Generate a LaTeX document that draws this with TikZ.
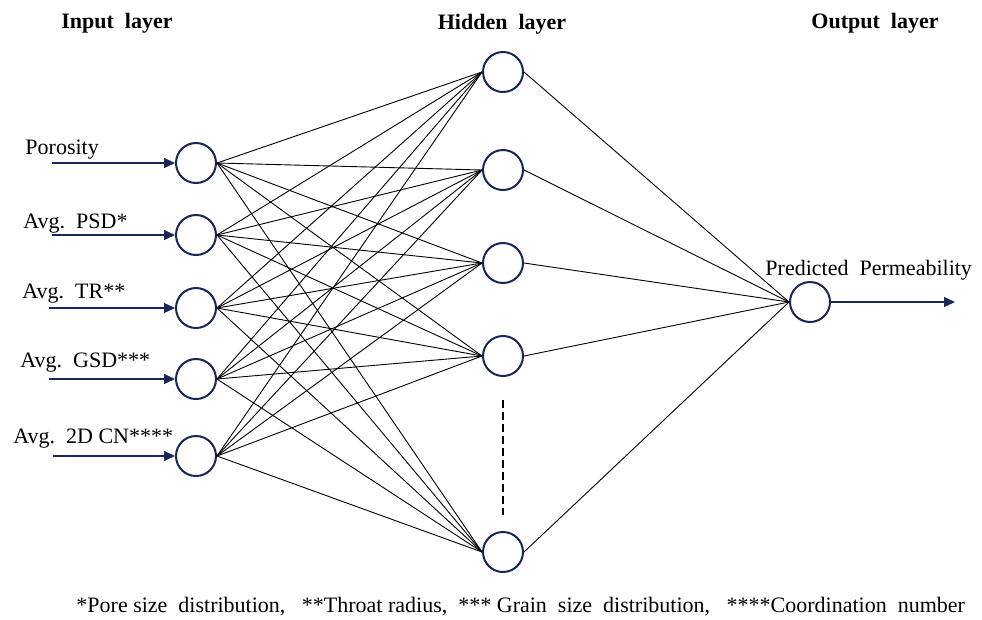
\documentclass[tikz,border=0pt]{standalone}
\usepackage{fontspec}
\setmainfont{Liberation Serif}
\usetikzlibrary{positioning,arrows.meta}
\definecolor{navy}{RGB}{25,38,90}

\begin{document}
\begin{tikzpicture}[x=1pt, y=-1pt, line width=0.9pt,
		neuron/.style={circle, draw=navy, line width=2pt, minimum size=40pt, inner sep=0pt},
		feed/.style={-{Triangle[length=11pt,width=10pt]}, draw=navy, fill=navy, line width=1.2pt},
		lbl/.style={font=\fontsize{22}{26}\selectfont, inner sep=0pt, anchor=base west},
		head/.style={font=\bfseries\fontsize{22}{26}\selectfont, inner sep=0pt, anchor=base}]
		\useasboundingbox (0,0) rectangle (982,619);
		% layer titles
		\node[head] (tin) at (117,28) {Input\ \ layer};
		\node[head] (thid) at (502,29) {Hidden\ \ layer};
		\node[head] (tout) at (875,28) {Output\ \ layer};
		% input neurons
		\node[neuron] (i1) at (196,163) {};
		\node[neuron] (i2) at (196,235) {};
		\node[neuron] (i3) at (196,308) {};
		\node[neuron] (i4) at (196,379) {};
		\node[neuron] (i5) at (196,456) {};
		% hidden neurons
		\node[neuron] (h1) at (503,72) {};
		\node[neuron] (h2) at (503,170) {};
		\node[neuron] (h3) at (503,263) {};
		\node[neuron] (h4) at (503,356) {};
		\node[neuron] (h5) at (503,552) {};
		% output neuron
		\node[neuron] (o) at (810,302) {};
		% input labels
		\node[lbl] (l1) at (25,154) {Porosity};
		\node[lbl] (l2) at (23,228) {Avg.\ \ PSD*};
		\node[lbl] (l3) at (22,298) {Avg.\ \ TR**};
		\node[lbl] (l4) at (20,367) {Avg.\ \ GSD***};
		\node[lbl] (l5) at (13,443) {Avg.\ \ 2D\ CN****};
		\node[lbl] (lo) at (765,275) {Predicted\ \ Permeability};
		% input arrows
		\coordinate (s1) at (52,163);
		\coordinate (s2) at (52,235);
		\coordinate (s3) at (49,308);
		\coordinate (s4) at (49,379);
		\coordinate (s5) at (53,456);
		\coordinate (e) at (955,302);
		\foreach \k in {1,...,5}
			\draw[feed] (s\k) -- (i\k.west);
		\draw[feed] (o.east) -- (e);
		% weights
		\foreach \a in {1,...,5}
			\foreach \b in {1,...,5}
				\draw (i\a.east) -- (h\b.west);
		\foreach \b in {1,...,5}
			\draw (h\b.east) -- (o.west);
		% more hidden neurons
		\coordinate (d1) at (503,400);
		\coordinate (d2) at (503,515);
		\draw[line width=2.5pt, dash pattern=on 8pt off 4pt] (d1) -- (d2);
		% footnote
		\node[font=\fontsize{22}{26}\selectfont, inner sep=0pt, anchor=base west] (note) at (76,612)
			{*Pore size\ \ distribution,\ \ \ **Throat radius,\ \ *** Grain\ \ size\ \ distribution,\ \ \ ****Coordination\ \ number};
	\end{tikzpicture}
\end{document}
